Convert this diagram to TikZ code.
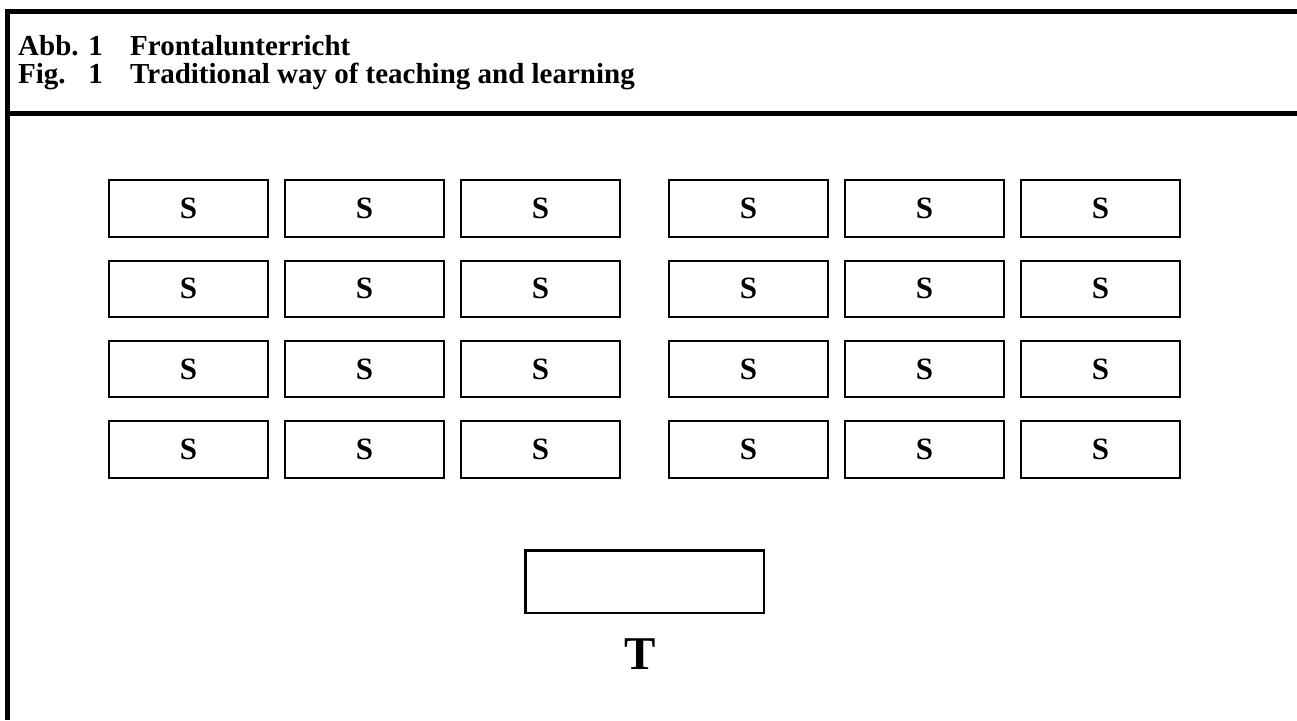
\documentclass[tikz,border=0pt]{standalone}
\usepackage{fontspec}
\setmainfont{Liberation Serif}
\begin{document}
\begin{tikzpicture}[x=1pt,y=-1pt,
  frame/.style={line width=5pt},
  caption/.style={inner sep=0pt,anchor=base west,font=\fontsize{29}{33}\selectfont\bfseries},
  seat/.style={draw,line width=2pt,minimum width=159pt,minimum height=56.5pt,inner sep=0pt,
    font=\fontsize{31}{35}\selectfont\bfseries},
  desk/.style={draw,line width=2.5pt,minimum width=238.5pt,minimum height=62.5pt,inner sep=0pt},
  teacher/.style={inner sep=0pt,anchor=base,font=\fontsize{47}{50}\selectfont\bfseries}]
\useasboundingbox (0,0) rectangle (1297,720);

% frame of the figure
\draw[frame] (5,11.5) -- (1297,11.5);
\draw[frame] (5,113.5) -- (1297,113.5);
\draw[frame] (7.5,9) -- (7.5,720);

% caption
\node[caption] (abb) at (18,55) {Abb. 1};
\node[caption] (abbtext) at (130,55) {Frontalunterricht};
\node[caption] (fig) at (18,83) {Fig.};
\node[caption,anchor=base east] (fignum) at (abb.base east |- 0,83) {1};
\node[caption] (figtext) at (130,83) {Traditional way of teaching and learning};

% student desks: four rows, two blocks of three
\foreach \r in {0,1,2,3}{
  \foreach \c/\x in {1/188.5,2/364.5,3/540.5,4/748.5,5/924.5,6/1100.5}{
    \node[seat] (s-\r-\c) at (\x,{208.5+80.3*\r}) {S};
  }
}

% teacher desk
\node[desk] (desk) at (644.5,581.5) {};
\node[teacher] (t) at (640,669) {T};
\end{tikzpicture}
\end{document}
